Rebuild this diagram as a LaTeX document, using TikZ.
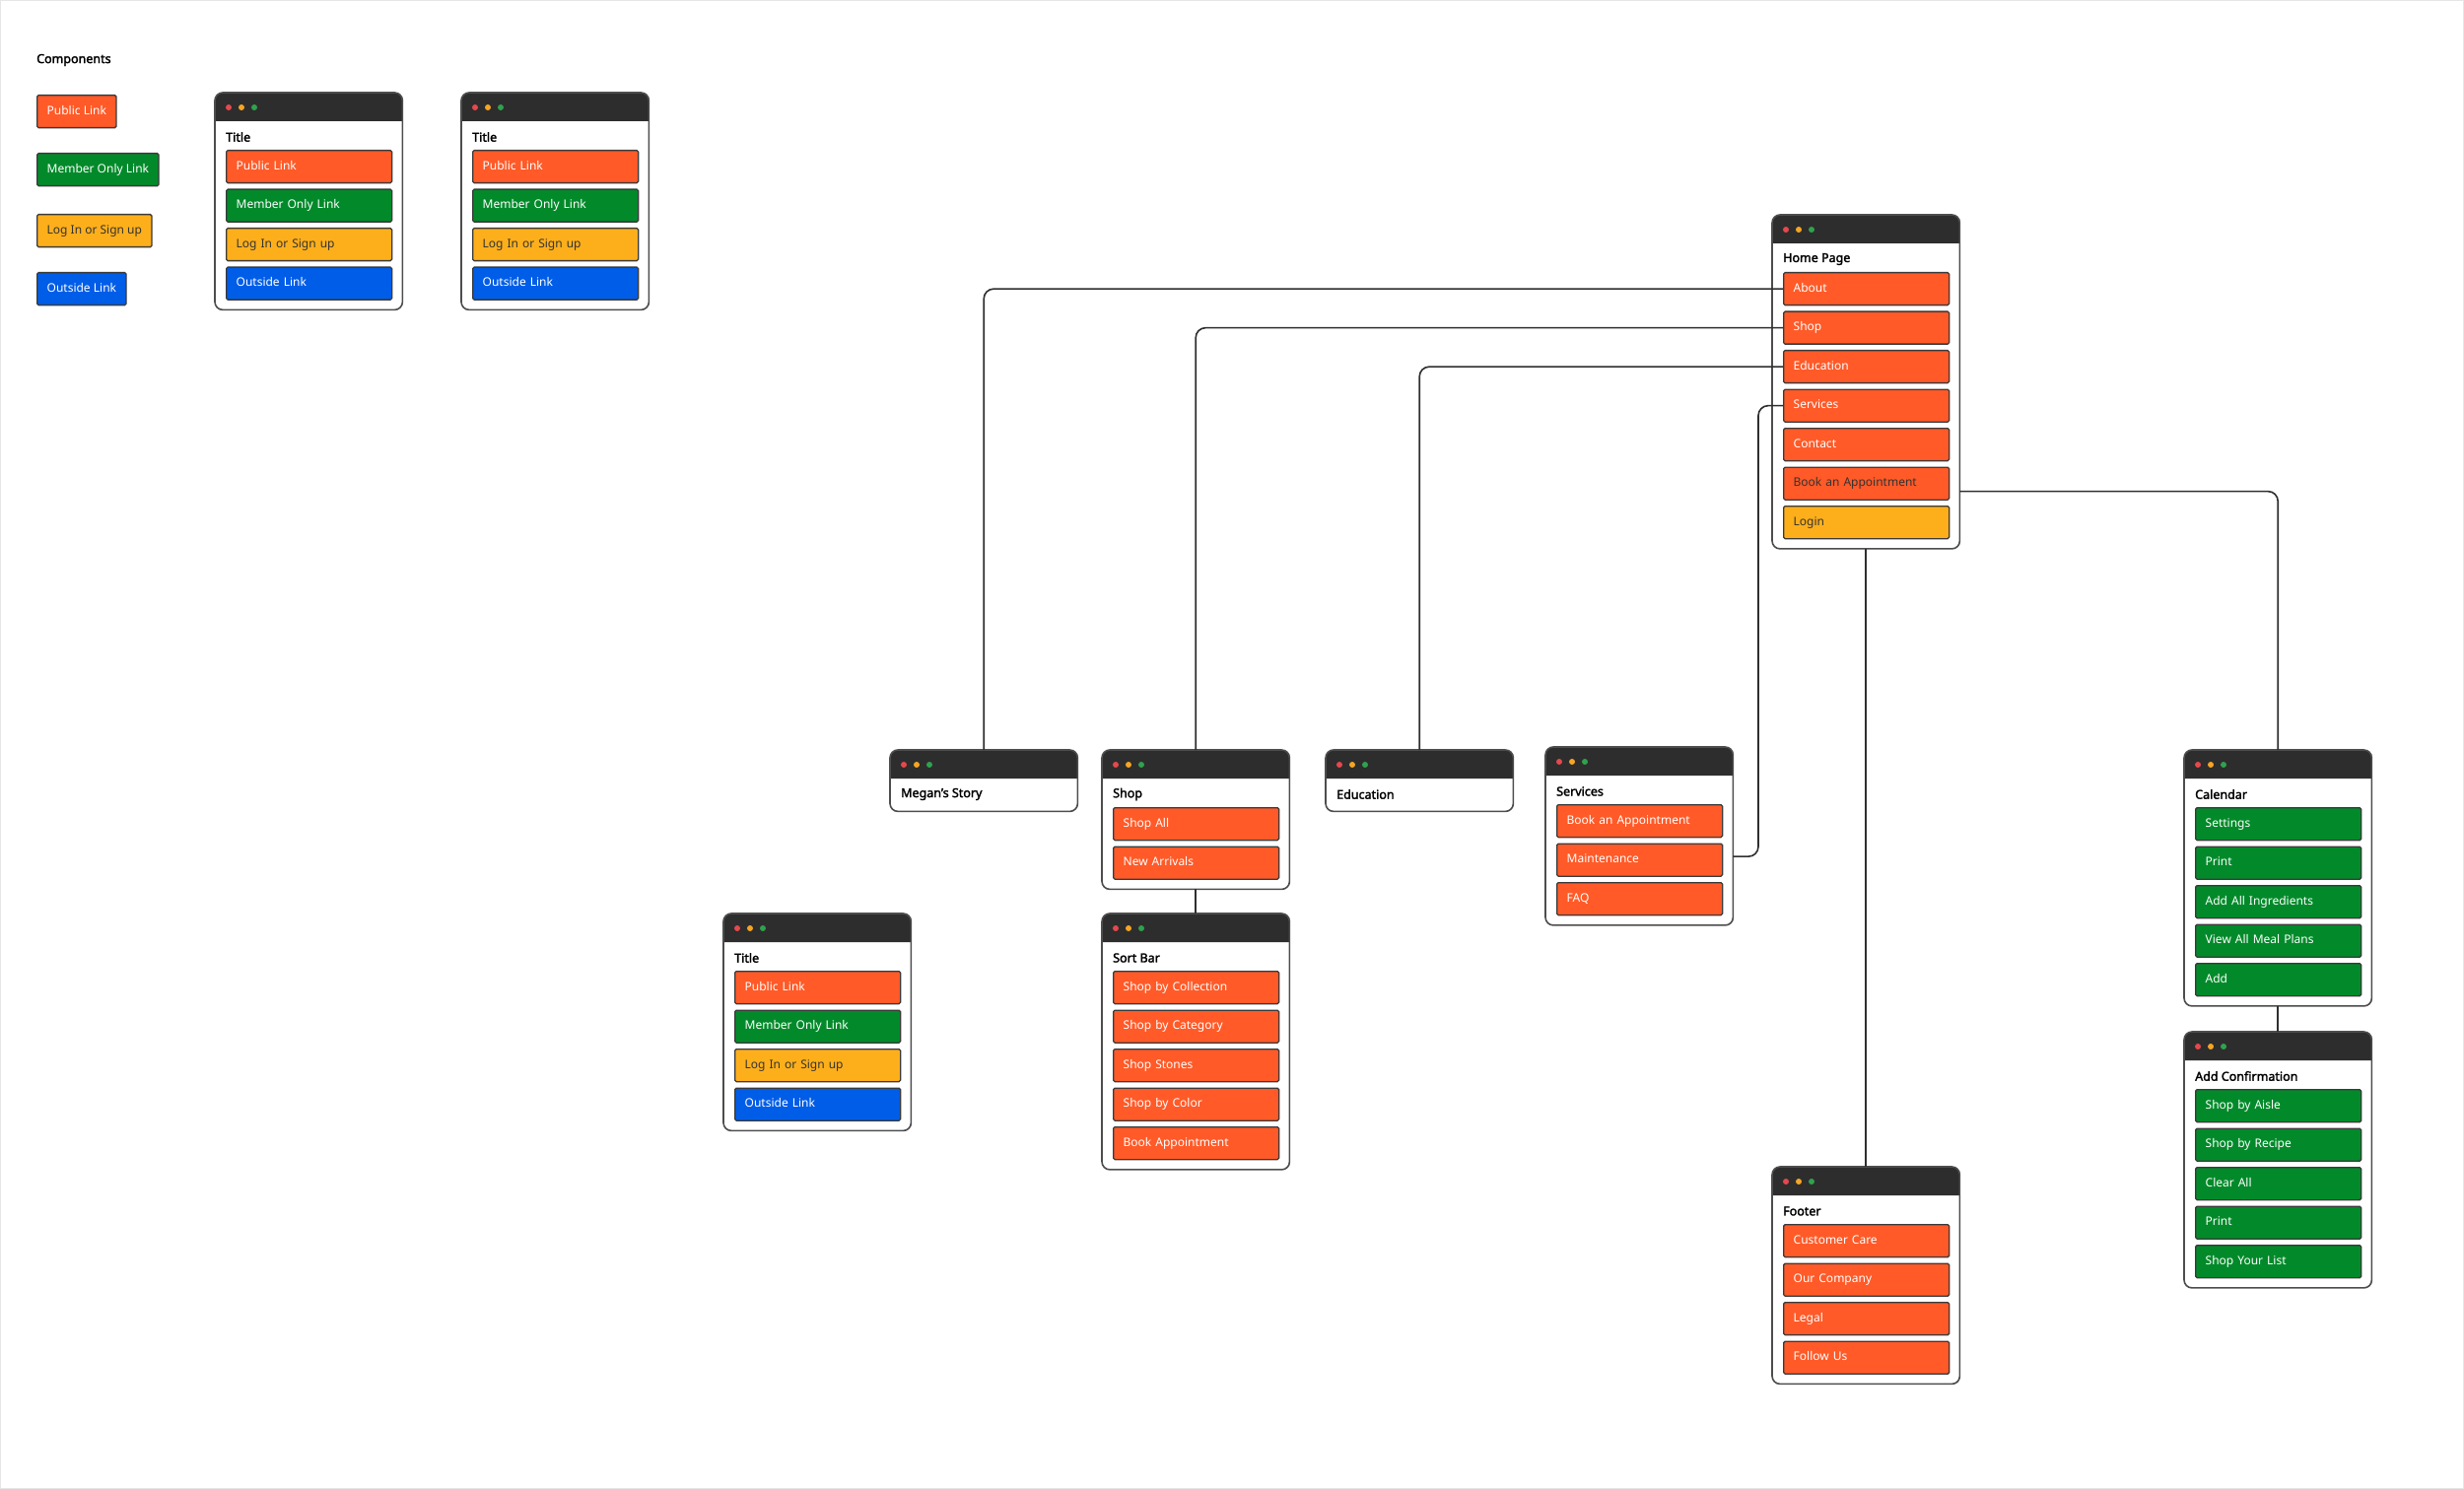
\documentclass[tikz,border=0pt]{standalone}
\usepackage{fontspec}
\setmainfont{Noto Sans}[AutoFakeBold=2.2]
\usetikzlibrary{calc}

\definecolor{pubcol}{HTML}{FF5A28}
\definecolor{memcol}{HTML}{028A2A}
\definecolor{logcol}{HTML}{FDAF1B}
\definecolor{outcol}{HTML}{005DE8}
\definecolor{hdrcol}{HTML}{2D2D2D}
\definecolor{winline}{HTML}{4D4D4D}
\definecolor{btnline}{HTML}{3A3A3A}
\definecolor{linkcol}{HTML}{2F2F2F}
\definecolor{darktext}{HTML}{333333}
\definecolor{dotred}{HTML}{E5484D}
\definecolor{dotyel}{HTML}{F5A524}
\definecolor{dotgrn}{HTML}{30A14E}
\definecolor{framecol}{HTML}{E6E6E6}

\tikzset{
  linkbox/.style={draw=btnline, line width=1.3pt, rounded corners=1.5pt,
    font=\fontsize{12}{14}\selectfont, text height=9pt, text depth=2.5pt,
    inner xsep=10pt, inner ysep=0pt, minimum height=33pt, align=left, anchor=north west},
  btn/.style={linkbox, text width=148pt},
  pub/.style={fill=pubcol, text=white},
  pubdk/.style={fill=pubcol, text=darktext},
  mem/.style={fill=memcol, text=white},
  logn/.style={fill=logcol, text=darktext},
  outs/.style={fill=outcol, text=white},
  winbox/.style={fill=white, minimum width=190pt, inner sep=0pt, anchor=north west, rounded corners=8pt},
  winedge/.style={draw=winline, line width=1.6pt, rounded corners=8pt},
  wintitle/.style={font=\fontsize{12.5}{14}\selectfont\bfseries, anchor=west, inner sep=0pt},
  link/.style={draw=linkcol, line width=1.6pt, rounded corners=10pt},
}

% window frame: name, left, top, number of links, title
\newcommand{\sitewin}[5]{%
  \node[winbox, minimum height={62+39.5*#4}] (#1) at (#2,#3) {};
  \fill[hdrcol] (#2,#3+29) -- (#2,#3+8) arc[start angle=180, end angle=90, radius=8pt]
    -- (#2+182,#3) arc[start angle=90, end angle=0, radius=8pt] -- (#2+190,#3+29) -- cycle;
  \draw[winedge] (#1.north west) rectangle (#1.south east);
  \fill[dotred] (#2+14,#3+15) circle (3pt);
  \fill[dotyel] (#2+27,#3+15) circle (3pt);
  \fill[dotgrn] (#2+40,#3+15) circle (3pt);
  \node[wintitle] (#1-title) at (#2+11,#3+45) {#5};
}
% links inside a window: name, left, top, style/text list
\newcommand{\sitebtns}[4]{%
  \foreach \sty/\txt [count=\k] in {#4}
    \node[btn, \sty] (#1-\k) at (#2+11,{#3+58+(\k-1)*39.5}) {\txt};
}

\begin{document}
\begin{tikzpicture}[x=1pt, y=-1pt]
  \useasboundingbox (0,0) rectangle (2500,1511);
  \fill[white] (0,0) rectangle (2500,1511);
  \draw[framecol, line width=2pt] (0,0) rectangle (2500,1511);

  %components
  \node[wintitle] (comp) at (37,61) {Components};
  \node[linkbox, pub] (leg-1) at (37,96) {Public Link};
  \node[linkbox, mem] (leg-2) at (37,155) {Member Only Link};
  \node[linkbox, logn] (leg-3) at (37,217) {Log In or Sign up};
  \node[linkbox, outs] (leg-4) at (37,276) {Outside Link};

  %templates
  \sitewin{tmpla}{218}{94}{4}{Title}
  \sitebtns{tmpla}{218}{94}{pub/Public Link, mem/Member Only Link, logn/Log In or Sign up, outs/Outside Link}
  \sitewin{tmplb}{468}{94}{4}{Title}
  \sitebtns{tmplb}{468}{94}{pub/Public Link, mem/Member Only Link, logn/Log In or Sign up, outs/Outside Link}
  \sitewin{tmplc}{734}{927}{4}{Title}
  \sitebtns{tmplc}{734}{927}{pub/Public Link, mem/Member Only Link, logn/Log In or Sign up, outs/Outside Link}

  %home page
  \sitewin{home}{1798}{218}{7}{Home Page}
  \sitebtns{home}{1798}{218}{pub/About, pub/Shop, pub/Education, pub/Services, pub/Contact, pubdk/Book an Appointment, logn/Login}

  %pages
  \sitewin{megan}{903}{761}{0}{Megan’s Story}
  \sitewin{shop}{1118}{761}{2}{Shop}
  \sitebtns{shop}{1118}{761}{pub/Shop All, pub/New Arrivals}
  \sitewin{sortbar}{1118}{927}{5}{Sort Bar}
  \sitebtns{sortbar}{1118}{927}{pub/Shop by Collection, pub/Shop by Category, pub/Shop Stones, pub/Shop by Color, pub/Book Appointment}
  \sitewin{education}{1345}{761}{0}{Education}
  \sitewin{services}{1568}{758}{3}{Services}
  \sitebtns{services}{1568}{758}{pub/Book an Appointment, pub/Maintenance, pub/FAQ}
  \sitewin{calendar}{2216}{761}{5}{Calendar}
  \sitebtns{calendar}{2216}{761}{mem/Settings, mem/Print, mem/Add All Ingredients, mem/View All Meal Plans, mem/Add}
  \sitewin{addconf}{2216}{1047}{5}{Add Confirmation}
  \sitebtns{addconf}{2216}{1047}{mem/Shop by Aisle, mem/Shop by Recipe, mem/Clear All, mem/Print, mem/Shop Your List}
  \sitewin{footer}{1798}{1184}{4}{Footer}
  \sitebtns{footer}{1798}{1184}{pub/Customer Care, pub/Our Company, pub/Legal, pub/Follow Us}

  %connectors
  \coordinate (calfeed) at ([yshift=-8pt]home-6.east -| home.east);
  \coordinate (servfeed) at ([yshift=3.5pt]services-2.east -| services.east);
  \draw[link] (home-1.west) -| (megan.north);
  \draw[link] (home-2.west) -| (shop.north);
  \draw[link] (home-3.west) -| (education.north);
  \draw[link] (home-4.west) -- ++(-25,0) |- (servfeed);
  \draw[link] (home.south) -- (footer.north);
  \draw[link] (calfeed) -| (calendar.north);
  \draw[link] (shop.south) -- (sortbar.north);
  \draw[link] (calendar.south) -- (addconf.north);
\end{tikzpicture}
\end{document}
